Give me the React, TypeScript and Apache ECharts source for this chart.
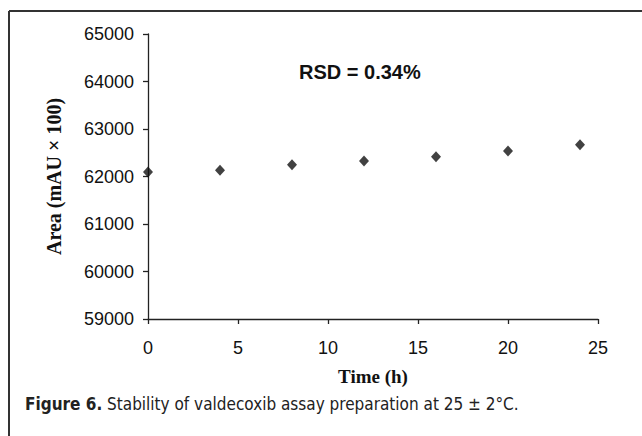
import React, { useEffect, useRef } from "react";
import * as echarts from "echarts";

const timeHours = [0, 4, 8, 12, 16, 20, 24];
const areaValues = [62095, 62131, 62248, 62326, 62417, 62537, 62669];
const yTicks = { min: 59000, max: 65000, interval: 1000 };
const xTicks = { min: 0, max: 25, interval: 5 };
const annotation = "RSD = 0.34%";
const xTitle = "Time (h)";
const yTitle = "Area (mAU × 100)";
const captionBold = "Figure 6.";
const captionRest = " Stability of valdecoxib assay preparation at 25 ± 2°C.";

export default function App() {
  const ref = useRef<HTMLDivElement>(null);
  useEffect(() => {
    if (!ref.current) return;
    const chart = echarts.init(ref.current, null, { renderer: "svg" });
    const data = timeHours.map((t, i) => [t, areaValues[i]]);
    const capFont = "'DejaVu Sans Condensed', 'Liberation Sans Narrow', 'Liberation Serif', serif";
    chart.setOption({
      animation: false,
      backgroundColor: "#ffffff",
      grid: { left: 148, top: 34, right: 44, bottom: 117, containLabel: false },
      xAxis: {
        type: "value",
        min: xTicks.min,
        max: xTicks.max,
        interval: xTicks.interval,
        name: xTitle,
        nameLocation: "middle",
        nameGap: 48,
        nameTextStyle: { fontFamily: "Liberation Serif", fontWeight: "bold", fontSize: 19, color: "#111" },
        axisLine: { lineStyle: { color: "#222", width: 1.3 } },
        axisTick: { show: true, inside: false, length: 5, lineStyle: { color: "#222", width: 1.3 } },
        axisLabel: { fontFamily: "Liberation Sans", fontSize: 18, color: "#111", margin: 20 },
        splitLine: { show: false },
      },
      yAxis: {
        type: "value",
        min: yTicks.min,
        max: yTicks.max,
        interval: yTicks.interval,
        name: yTitle,
        nameLocation: "middle",
        nameGap: 84,
        nameRotate: 90,
        nameTextStyle: { fontFamily: "Liberation Serif", fontWeight: "bold", fontSize: 20, color: "#111" },
        axisLine: { show: true, lineStyle: { color: "#222", width: 1.3 } },
        axisTick: { show: true, inside: false, length: 5, lineStyle: { color: "#222", width: 1.3 } },
        axisLabel: {
          fontFamily: "Liberation Sans",
          fontSize: 18,
          color: "#111",
          margin: 14,
          formatter: (v: number) => String(v),
        },
        splitLine: { show: false },
      },
      series: [
        {
          type: "scatter",
          data,
          symbol: "diamond",
          symbolSize: [10, 11],
          itemStyle: { color: "#111" },
        },
      ],
      graphic: [
        {
          type: "line",
          shape: { x1: 9, y1: 11, x2: 642, y2: 11 },
          style: { stroke: "#333", lineWidth: 2 },
        },
        {
          type: "line",
          shape: { x1: 9, y1: 11, x2: 9, y2: 436 },
          style: { stroke: "#333", lineWidth: 2 },
        },
        {
          type: "text",
          left: 299,
          top: 62,
          style: { text: annotation, font: "bold 20px 'Liberation Sans', Arial, sans-serif", fill: "#111" },
        },
        {
          type: "text",
          left: 25,
          top: 395,
          style: {
            text: `{b|${captionBold}}{r|${captionRest}}`,
            rich: {
              b: { fontFamily: capFont, fontWeight: "bold", fontSize: 17, fill: "#222" },
              r: { fontFamily: capFont, fontSize: 17, fill: "#222" },
            },
          },
        },
      ],
    });
    return () => chart.dispose();
  }, []);
  return (
    <div
      ref={ref}
      style={{ position: "fixed", left: 0, top: 0, width: 642, height: 436 }}
    />
  );
}
